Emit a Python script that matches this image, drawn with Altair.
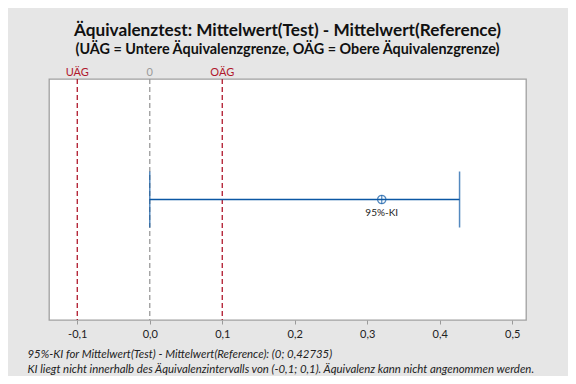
import altair as alt
import pandas as pd

# values
limit_values = [-0.1, 0.0, 0.1]
limit_labels = ["UÄG", "0", "OÄG"]
limit_kinds = ["limit", "zero", "limit"]
ci_lower = [0.0]
ci_upper = [0.42735]
estimate = [0.32]
ci_label = ["95%-KI"]
x_ticks = [-0.1, 0.0, 0.1, 0.2, 0.3, 0.4, 0.5]

FONT = "Lato"
RED = "#b0182c"
GRAY = "#9a9a9a"
BLUE = "#0b57a4"

lim = pd.DataFrame({"x": limit_values, "label": limit_labels, "kind": limit_kinds})
ci = pd.DataFrame({"lo": ci_lower, "hi": ci_upper, "est": estimate, "y": [0.5], "label": ci_label})
ends = pd.DataFrame({"x": ci_lower + ci_upper, "y": [0.5, 0.5]})

xscale = alt.Scale(domain=[-0.139, 0.519], nice=False, zero=False)
yscale = alt.Scale(domain=[0, 1])

color_scale = alt.Scale(domain=["limit", "zero"], range=[RED, GRAY])

xaxis = alt.Axis(
    values=x_ticks,
    labelExpr="replace(replace(format(datum.value, '.1f'), '.', ','), '\u2212', '-')",
    grid=False, domain=False, ticks=True, tickSize=4, tickColor=GRAY,
    labelFont=FONT, labelFontSize=11, labelColor="#222222", labelPadding=4,
    title=["95%-KI for Mittelwert(Test) - Mittelwert(Reference): (0; 0,42735)",
           "KI liegt nicht innerhalb des Äquivalenzintervalls von (-0,1; 0,1). Äquivalenz kann nicht angenommen werden."],
    titleFont=FONT, titleFontSize=11.4, titleFontStyle="italic", titleFontWeight="normal",
    titleColor="#222222", titleAlign="left", titleAnchor="start", titleBaseline="alphabetic",
    titleX=-22, titleY=37, titleLineHeight=15,
)

rules = alt.Chart(lim).mark_rule(strokeDash=[5, 3], strokeWidth=1.3).encode(
    x=alt.X("x:Q", scale=xscale, axis=xaxis),
    color=alt.Color("kind:N", scale=color_scale, legend=None),
)

top_labels = alt.Chart(lim).mark_text(
    font=FONT, fontSize=11, baseline="alphabetic", dy=-3, clip=False
).encode(
    x=alt.X("x:Q", scale=xscale),
    y=alt.value(0),
    text="label:N",
    color=alt.Color("kind:N", scale=color_scale, legend=None),
)

ci_line = alt.Chart(ci).mark_rule(color=BLUE, strokeWidth=1.3).encode(
    x=alt.X("lo:Q", scale=xscale),
    x2="hi:Q",
    y=alt.Y("y:Q", scale=yscale, axis=None),
)

caps = alt.Chart(ends).mark_tick(color=BLUE, orient="vertical", size=56, thickness=1.5).encode(
    x=alt.X("x:Q", scale=xscale),
    y=alt.Y("y:Q", scale=yscale, axis=None),
)

point = alt.Chart(ci).mark_point(
    shape="circle", filled=False, color=BLUE, size=70, strokeWidth=1.2
).encode(
    x=alt.X("est:Q", scale=xscale),
    y=alt.Y("y:Q", scale=yscale, axis=None),
)

plus = alt.Chart(ci).mark_point(
    shape="M-1,0L1,0M0,-1L0,1", filled=False, color=BLUE, size=70, strokeWidth=1.2
).encode(
    x=alt.X("est:Q", scale=xscale),
    y=alt.Y("y:Q", scale=yscale, axis=None),
)

label = alt.Chart(ci).mark_text(
    font=FONT, fontSize=10, baseline="top", dy=8, color="#222222"
).encode(
    x=alt.X("est:Q", scale=xscale),
    y=alt.Y("y:Q", scale=yscale, axis=None),
    text="label:N",
)

chart = alt.layer(rules, top_labels, ci_line, caps, point, plus, label).properties(
    width=477,
    height=241,
    background="#e6e6e6",
    padding={"left": 41, "top": 71, "right": 42, "bottom": 56},
    autosize=alt.AutoSizeParams(type="none"),
    title=alt.TitleParams(
        text="Äquivalenztest: Mittelwert(Test) - Mittelwert(Reference)",
        subtitle="(UÄG = Untere Äquivalenzgrenze, OÄG = Obere Äquivalenzgrenze)",
        font=FONT, fontSize=17.2, fontWeight="bold", color="#111111",
        subtitleFont=FONT, subtitleFontSize=14.4, subtitleFontWeight="bold", subtitleColor="#111111",
        subtitlePadding=3, anchor="middle", offset=11,
    ),
).configure_view(stroke="#a0a0a0", strokeWidth=1.3, fill="white")

chart.save("out.html", embed_options={"renderer": "svg", "actions": False})
